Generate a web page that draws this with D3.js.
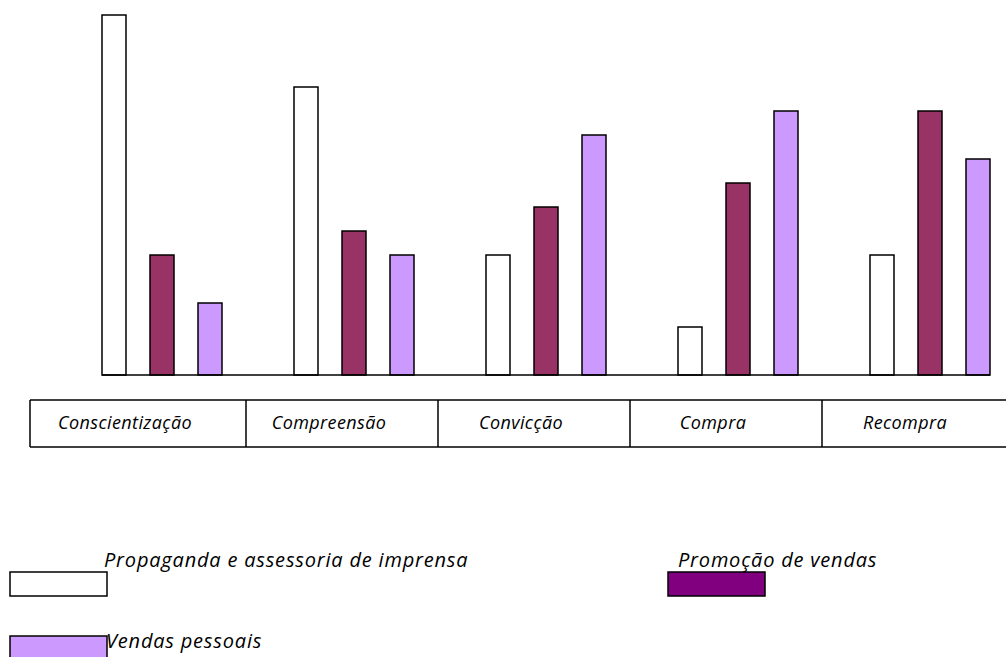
<!DOCTYPE html>
<html>
<head>
<meta charset="utf-8">
<script src="https://cdn.jsdelivr.net/npm/d3@7"></script>
<style>
  body { margin: 0; background: #fff; }
  svg { display: block; }
  text { font-family: "Open Sans", "Noto Sans", sans-serif; font-style: italic; fill: #000; }
</style>
</head>
<body>
<svg width="1006" height="657"></svg>
<script>
// data
const categories = ["Conscientização", "Compreensão", "Convicção", "Compra", "Recompra"];
const series = ["Propaganda e assessoria de imprensa", "Promoção de vendas", "Vendas pessoais"];
const propaganda = [15, 12, 5, 2, 5];
const promocao = [5, 6, 7, 8, 11];
const vendas = [3, 5, 10, 11, 9];

const values = [propaganda, promocao, vendas];
const barColors = ["#ffffff", "#993366", "#cc99ff"];
const legendColors = ["#ffffff", "#800080", "#cc99ff"];

const svg = d3.select("svg"),
  width = +svg.attr("width"),
  height = +svg.attr("height");

// scales
const x0 = d3.scaleBand()
  .domain(categories)
  .range([102, 102 + 192 * categories.length]);

const x1 = d3.scaleBand()
  .domain(series)
  .range([0, 120])
  .paddingInner(0.5)
  .paddingOuter(0);

const y = d3.scaleLinear()
  .domain([0, 15])
  .range([375, 15]);

// bars
const groups = svg.append("g")
  .selectAll("g")
  .data(categories)
  .join("g")
  .attr("transform", d => `translate(${x0(d)},0)`);

groups.selectAll("rect")
  .data((c, i) => series.map((s, j) => ({ s: s, j: j, v: values[j][i] })))
  .join("rect")
  .attr("x", d => x1(d.s))
  .attr("y", d => y(d.v))
  .attr("width", x1.bandwidth())
  .attr("height", d => y(0) - y(d.v))
  .attr("fill", d => barColors[d.j])
  .attr("stroke", "#000")
  .attr("stroke-width", 1.5);

// baseline
const last = categories[categories.length - 1];
svg.append("line")
  .attr("x1", x0(categories[0]))
  .attr("x2", x0(last) + x1(series[2]) + x1.bandwidth())
  .attr("y1", y(0))
  .attr("y2", y(0))
  .attr("stroke", "#000")
  .attr("stroke-width", 1.5);

// category table
const tableTop = 400, tableBottom = 447;
const cellLeft = (d, i) => i === 0 ? x0(d) - 72 : x0(d) - 48;
const cellRight = d => x0(d) + 144;

const table = svg.append("g");
table.append("line")
  .attr("x1", 30).attr("x2", width + 10)
  .attr("y1", tableTop).attr("y2", tableTop)
  .attr("stroke", "#000").attr("stroke-width", 1.5);
table.append("line")
  .attr("x1", 30).attr("x2", width + 10)
  .attr("y1", tableBottom).attr("y2", tableBottom)
  .attr("stroke", "#000").attr("stroke-width", 1.5);

table.selectAll("line.div")
  .data(categories)
  .join("line")
  .attr("class", "div")
  .attr("x1", cellLeft).attr("x2", cellLeft)
  .attr("y1", tableTop).attr("y2", tableBottom)
  .attr("stroke", "#000").attr("stroke-width", 1.5);

table.selectAll("text")
  .data(categories)
  .join("text")
  .attr("x", (d, i) => (cellLeft(d, i) + cellRight(d)) / 2 - 13)
  .attr("y", 429)
  .attr("text-anchor", "middle")
  .style("font-size", "18px")
  .style("letter-spacing", "0.4px")
  .text(d => d);

// legend
const legendPos = [
  { bx: 10, by: 572, tx: 104, ty: 567 },
  { bx: 668, by: 572, tx: 678, ty: 567 },
  { bx: 10, by: 636, tx: 106, ty: 648 }
];

const legend = svg.append("g")
  .selectAll("g")
  .data(series)
  .join("g");

legend.append("rect")
  .attr("x", (d, i) => legendPos[i].bx)
  .attr("y", (d, i) => legendPos[i].by)
  .attr("width", 97)
  .attr("height", 24)
  .attr("fill", (d, i) => legendColors[i])
  .attr("stroke", "#000")
  .attr("stroke-width", 1.5);

legend.append("text")
  .attr("x", (d, i) => legendPos[i].tx)
  .attr("y", (d, i) => legendPos[i].ty)
  .style("font-size", "20px")
  .style("letter-spacing", "0.8px")
  .text(d => d);
</script>
</body>
</html>
